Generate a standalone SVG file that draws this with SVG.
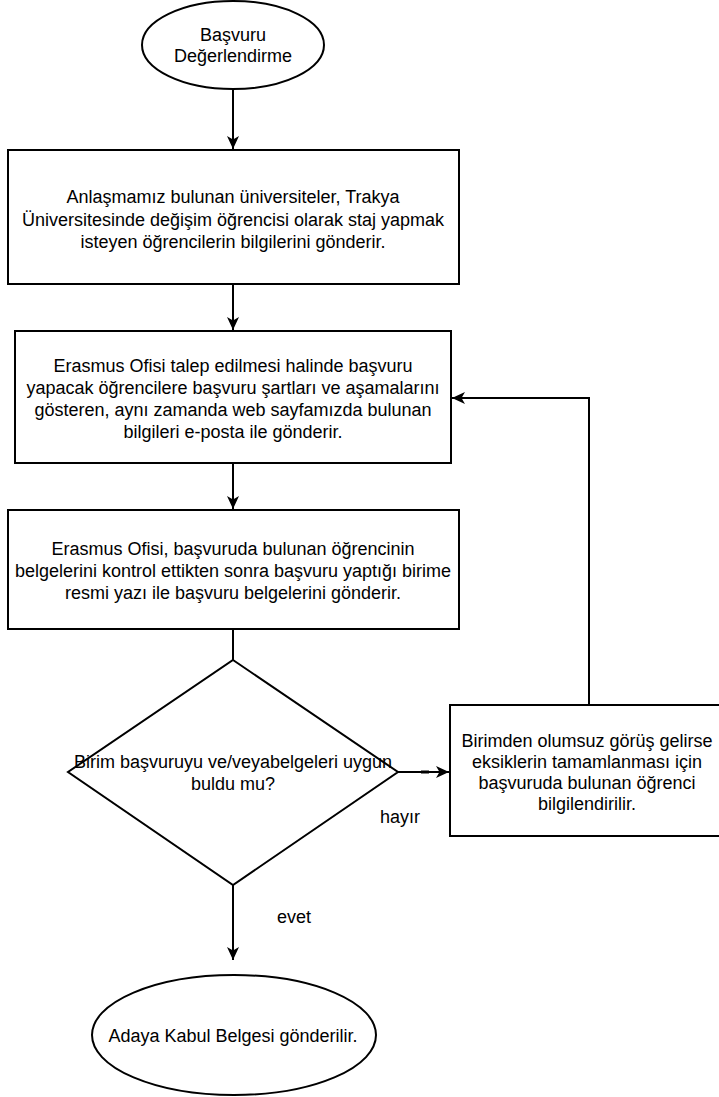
<svg xmlns="http://www.w3.org/2000/svg" width="719" height="1097" viewBox="0 0 719 1097">
<style>
.s{fill:#fff;stroke:#000;stroke-width:2}
.c{fill:none;stroke:#000;stroke-width:2}
text{font-family:"Liberation Sans",Arial,Helvetica,sans-serif;font-size:18px;fill:#000;text-anchor:middle}
.l{text-anchor:start}
</style>
<defs>
<marker id="a" markerWidth="14" markerHeight="12" refX="13" refY="6" orient="auto" markerUnits="userSpaceOnUse">
<path d="M0,0 L13,6 L0,12 L3.5,6 Z" fill="#000"/>
</marker>
</defs>
<rect width="719" height="1097" fill="#fff"/>
<g id="connectors">
<line class="c" x1="233" y1="89" x2="233" y2="149" marker-end="url(#a)"/>
<line class="c" x1="233" y1="284" x2="233" y2="330" marker-end="url(#a)"/>
<line class="c" x1="233" y1="463" x2="233" y2="509" marker-end="url(#a)"/>
<line class="c" x1="233" y1="629" x2="233" y2="660"/>
<line class="c" x1="233" y1="885" x2="233" y2="960" marker-end="url(#a)"/>
<line class="c" x1="398" y1="772" x2="449" y2="772" marker-end="url(#a)"/>
<line x1="421" y1="772" x2="429" y2="772" stroke="#000" stroke-width="3"/>
<polyline class="c" points="589,705 589,398 452,398" marker-end="url(#a)"/>
<text class="l" x="380" y="823">hayır</text>
<text class="l" x="277" y="923">evet</text>
</g>
<g id="start">
<ellipse class="s" cx="233" cy="45" rx="91" ry="44"/>
<text x="233" y="41">Başvuru</text>
<text x="233" y="62">Değerlendirme</text>
</g>
<g id="box1">
<rect class="s" x="8" y="150" width="451" height="134"/>
<text x="233" y="203">Anlaşmamız bulunan üniversiteler, Trakya</text>
<text x="233" y="225.5">Üniversitesinde değişim öğrencisi olarak staj yapmak</text>
<text x="233" y="248">isteyen öğrencilerin bilgilerini gönderir.</text>
</g>
<g id="box2">
<rect class="s" x="15" y="331" width="436" height="132"/>
<text x="233" y="372">Erasmus Ofisi talep edilmesi halinde başvuru</text>
<text x="233" y="394">yapacak öğrencilere başvuru şartları ve aşamalarını</text>
<text x="233" y="416">gösteren, aynı zamanda web sayfamızda bulunan</text>
<text x="233" y="438">bilgileri e-posta ile gönderir.</text>
</g>
<g id="box3">
<rect class="s" x="8" y="510" width="451" height="119"/>
<text x="233" y="555">Erasmus Ofisi, başvuruda bulunan öğrencinin</text>
<text x="233" y="577">belgelerini kontrol ettikten sonra başvuru yaptığı birime</text>
<text x="233" y="599">resmi yazı ile başvuru belgelerini gönderir.</text>
</g>
<g id="decision">
<polygon class="s" points="233,660 398,772 233,885 68,772"/>
<text x="233" y="768">Birim başvuruyu ve/veyabelgeleri uygun</text>
<text x="233" y="790">buldu mu?</text>
</g>
<g id="feedback">
<rect class="s" x="450" y="705" width="274" height="131"/>
<text x="587" y="747">Birimden olumsuz görüş gelirse</text>
<text x="587" y="768">eksiklerin tamamlanması için</text>
<text x="587" y="789">başvuruda bulunan öğrenci</text>
<text x="587" y="810">bilgilendirilir.</text>
</g>
<g id="end">
<ellipse class="s" cx="234" cy="1035" rx="142" ry="60"/>
<text x="233" y="1042">Adaya Kabul Belgesi gönderilir.</text>
</g>
</svg>
